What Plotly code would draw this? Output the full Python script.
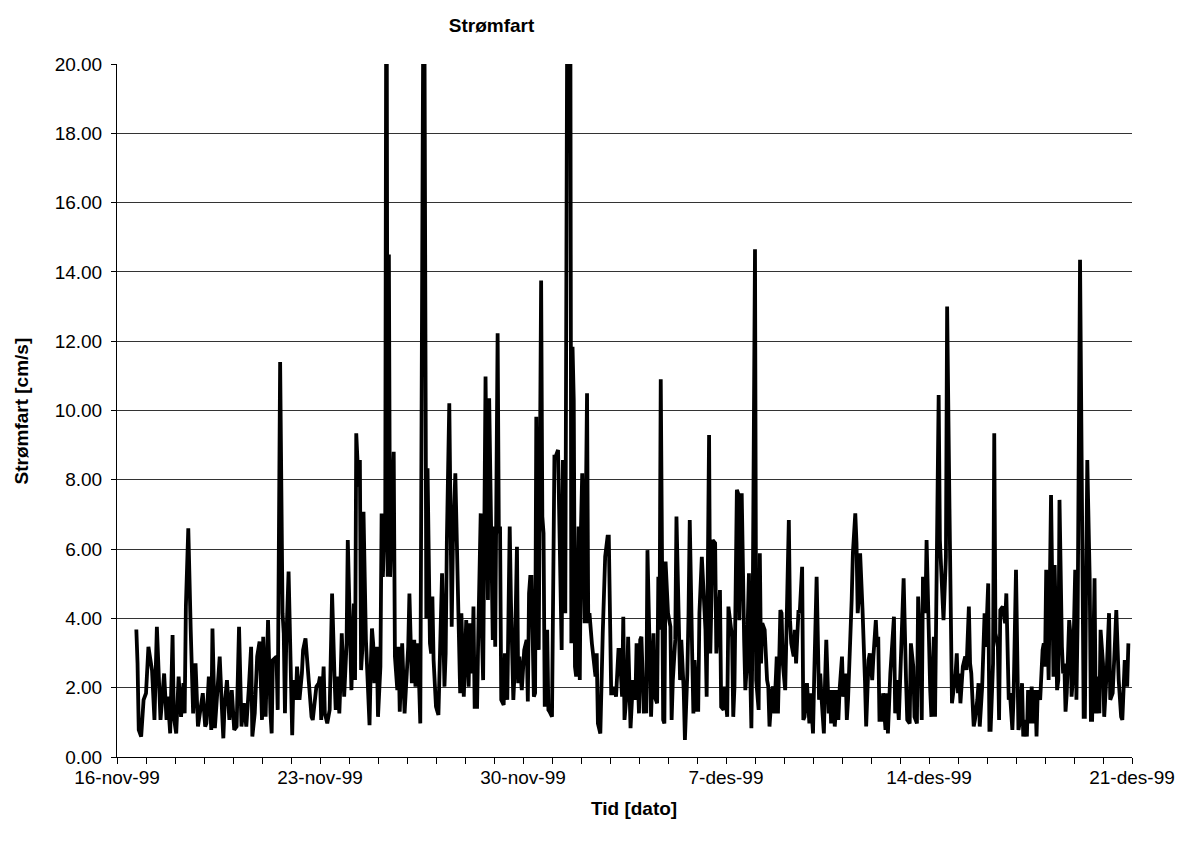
import pandas as pd
import plotly.graph_objects as go

# current speed readings, hours after 16-nov-99 00:00
start = pd.Timestamp('1999-11-16')

hours = [
    16, 17, 18, 20, 22, 24, 26, 27, 29, 31, 33, 36, 39, 41, 42, 44, 46, 47, 49, 51,
    53, 55, 56, 57, 59, 61, 62, 63, 65, 66, 67, 71, 73, 74, 76, 78, 79, 81,
    85, 87, 88, 89, 91, 93, 95, 97, 99, 101, 103, 105, 107, 109, 111, 112, 114, 116,
    118, 120, 121, 123, 125, 127, 128, 129, 132, 133, 135, 137, 138, 139, 140, 142,
    143, 144, 145, 146, 148, 149, 151, 153, 154, 156, 157, 159, 161, 162, 165, 167,
    168, 169, 171, 172, 174, 176, 178, 180, 181, 182, 184, 185, 186, 188, 190, 191,
    193, 194, 196, 197, 198, 200, 201, 202, 203, 204, 206, 207, 209, 210, 211, 212,
    213, 215, 216, 218, 219, 220, 222, 223, 224, 225, 226, 229, 230, 232, 233, 234,
    236, 238, 239, 241, 242, 244, 246, 247, 249,
    251, 254, 256, 257, 258, 259, 260, 261, 262, 264, 266, 267, 269, 271, 272, 273,
    275, 277, 278, 280, 282, 283, 284, 285, 287, 288, 289, 291, 292, 294, 295, 296,
    298, 299, 301, 302, 303, 305, 306, 307, 308, 309, 311, 312, 313, 315, 316, 317,
    318, 320, 321, 323, 325, 326, 328, 329, 331, 332,
    333, 335, 337, 339, 340, 341, 342, 343, 345, 346, 347, 348, 349, 351, 352, 353,
    354, 356, 357, 358, 360, 362, 363, 365, 367, 368, 369, 371, 373, 374, 375, 376,
    377, 378, 379, 380, 382, 383, 384, 385, 387, 388, 389, 390, 391, 393, 394, 396,
    397, 398, 400, 401, 402, 404, 406, 407, 408, 409, 411, 412, 413, 415,
    416, 418, 419, 420, 422, 423, 425, 427, 429, 430, 432, 433, 434, 436, 437, 438,
    439, 441, 442, 444, 445, 447, 448, 449, 450, 452, 453, 454, 456, 458, 459, 460,
    462, 463, 465, 466, 467, 469, 470, 472, 473, 474, 476, 477, 478, 480, 481, 482,
    484, 485, 487, 488, 490, 491, 493, 495, 496,
    499, 500, 502, 503, 505, 506, 508, 509, 510, 511, 513, 514, 515, 517, 519, 520,
    521, 523, 524, 525, 526, 528, 529, 531, 532, 533, 534, 536, 538, 539, 540, 542,
    543, 544, 546, 547, 549, 550, 551, 553, 554, 556, 557, 558, 560, 561, 562, 564,
    565, 567, 568, 569, 571, 573, 574, 576, 577, 579, 581,
    582, 583, 585, 586, 587, 589, 590, 591, 593, 594, 596, 597, 598, 600, 601, 603,
    604, 605, 607, 608, 609, 611, 612, 613, 614, 615, 617, 618, 619, 620, 622, 623,
    625, 626, 628, 629, 630, 631, 633, 634, 636, 637, 638, 640, 641, 643, 644, 645,
    647, 648, 649, 651, 653, 654, 656, 657, 659, 660, 662, 663,
    665, 666, 667, 669, 670, 672, 673, 674, 676, 677, 678, 680, 681, 683, 684, 686,
    687, 689, 690, 691, 692, 694, 695, 696, 697, 698, 700, 702, 703, 705, 706, 707,
    709, 710, 712, 713, 714, 716, 718, 719, 721, 722, 723, 725, 726, 727, 729, 730,
    731, 733, 735, 736, 738, 739, 741, 742, 744, 745, 746,
    747, 749, 750, 751, 753, 754, 755, 757, 758, 760, 761, 762, 764, 765, 766, 767,
    768, 769, 771, 773, 774, 775, 776, 778, 779, 780, 782, 783, 784, 785, 786, 788,
    789, 790, 791, 793, 794, 795, 797, 799, 800, 801, 803, 805, 806, 807, 809, 810,
    812, 813, 814, 816, 817, 819, 821, 822, 824, 826, 827, 829, 831, 832, 834, 836, 837,
]

speed = [
    3.68, 2.70, 0.78, 0.59, 1.65, 1.84, 3.18, 2.90, 2.50, 1.07, 3.76, 1.07, 2.41, 1.07, 1.74, 0.68, 3.52, 1.16, 0.68, 2.32,
    1.16, 2.13, 1.26, 4.34, 6.60, 3.67, 2.70, 1.26, 2.70, 1.74, 0.88, 1.84, 0.88, 0.97, 2.32, 0.78, 3.71, 0.83,
    2.90, 1.26, 0.54, 1.45, 2.22, 1.07, 1.93, 0.78, 0.88, 3.76, 0.88, 1.55, 0.88, 1.93, 3.18, 0.59, 1.26, 2.90,
    3.33, 1.07, 3.47, 1.16, 3.95, 1.26, 0.68, 2.80, 2.90, 1.36, 11.40, 4.15, 3.57, 1.26, 3.18, 5.35,
    3.57, 2.22, 0.63, 2.22, 1.65, 2.61, 1.65, 2.41, 3.09, 3.42, 2.90, 1.84, 1.16, 1.07, 2.03, 2.13,
    2.32, 1.07, 2.61, 1.26, 0.97, 1.36, 4.72, 2.32, 1.36, 2.32, 1.26, 2.22, 3.57, 1.74, 3.28, 6.26,
    2.99, 1.93, 4.43, 2.22, 9.34, 7.80, 8.57, 2.51, 3.09, 7.08, 3.38, 2.32, 0.92, 2.61, 3.71, 3.28,
    2.13, 3.18, 1.16, 2.61, 7.03, 5.20, 7.03, 26.0, 5.20, 14.50, 5.20, 8.81, 2.90, 1.93, 3.18, 1.31,
    3.28, 1.26, 2.03, 3.18, 4.72, 2.13, 3.38, 2.03, 3.28,
    0.97, 26.0, 4.00, 8.33, 4.53, 3.28, 2.99, 4.63, 2.80, 1.45, 1.21, 2.61, 5.30, 2.03, 2.99, 6.26,
    10.21, 3.76, 6.17, 8.19, 4.92, 3.57, 1.84, 4.15, 1.74, 2.80, 3.95, 2.03, 3.86, 2.41, 4.34, 1.45,
    1.45, 3.57, 7.03, 3.57, 2.22, 10.98, 7.42, 4.53, 10.35, 7.42, 3.38, 6.65, 3.18, 12.23, 6.46, 6.65,
    1.65, 1.50, 2.99, 1.65, 6.65, 4.53, 1.65, 2.41, 6.07, 2.13,
    2.90, 1.93, 3.09, 3.38, 1.60, 4.72, 5.20, 5.20, 1.74, 1.84, 9.82, 4.05, 3.09, 13.75, 6.94, 6.46,
    1.45, 3.67, 1.36, 1.31, 1.16, 8.67, 8.67, 8.86, 4.24, 3.09, 8.57, 4.15, 26.0, 18.0, 26.0, 3.28,
    11.84, 10.30, 2.61, 2.32, 6.65, 2.22, 6.65, 8.19, 3.86, 8.19, 10.50, 3.86, 4.15, 3.28, 2.90, 2.32,
    2.99, 0.97, 0.68, 2.41, 3.57, 5.78, 6.36, 6.36, 4.72, 1.84, 1.84, 2.03, 1.74, 3.09,
    3.09, 1.74, 4.05, 1.07, 1.93, 3.47, 0.83, 2.22, 1.65, 3.28, 1.26, 3.38, 3.47, 1.26, 1.65, 1.26,
    5.97, 1.65, 1.16, 3.57, 1.74, 1.55, 5.20, 3.67, 10.90, 1.07, 0.97, 5.64, 4.15, 3.76, 1.07, 2.22,
    3.38, 6.94, 2.70, 2.22, 3.38, 1.93, 0.49, 2.41, 4.15, 6.84, 2.99, 1.26, 2.80, 1.36, 1.36, 4.15,
    5.78, 4.92, 3.67, 1.74, 9.29, 2.99, 6.26, 6.17, 2.99,
    4.82, 1.45, 1.36, 2.03, 1.16, 4.34, 3.76, 3.47, 1.16, 2.03, 7.71, 7.61, 3.95, 7.61, 3.38, 1.93,
    2.51, 5.30, 2.51, 0.83, 3.67, 14.65, 2.22, 1.36, 5.88, 2.70, 3.86, 3.67, 2.22, 2.03, 0.88, 1.93,
    2.03, 1.26, 2.90, 1.26, 4.24, 4.15, 2.70, 1.93, 3.57, 6.84, 3.95, 3.28, 2.90, 3.67, 2.70, 4.24,
    4.15, 5.49, 1.07, 1.16, 2.13, 0.97, 1.84, 0.68, 2.32, 5.20, 1.65,
    2.41, 1.74, 0.68, 2.22, 3.38, 1.26, 1.93, 0.97, 1.93, 0.88, 1.93, 1.07, 1.93, 2.90, 1.74, 2.41,
    1.07, 1.65, 3.38, 4.53, 5.88, 7.03, 6.17, 4.15, 4.63, 5.88, 4.24, 3.38, 2.22, 0.88, 2.80, 2.99,
    2.22, 2.90, 3.95, 3.18, 3.47, 1.07, 1.07, 1.84, 0.78, 1.84, 0.68, 2.41, 2.99, 4.05, 1.26, 2.22,
    1.07, 2.22, 2.80, 5.16, 2.22, 1.07, 0.97, 3.28, 2.61, 1.16, 0.97, 4.63,
    2.90, 1.07, 5.20, 4.15, 6.26, 2.61, 1.93, 1.16, 3.47, 1.16, 3.86, 10.45, 6.26, 4.63, 3.95, 5.78,
    13.00, 7.03, 3.67, 1.55, 1.84, 2.41, 2.99, 1.84, 2.41, 1.55, 2.61, 2.90, 2.51, 4.34, 2.70, 2.41,
    0.88, 1.07, 1.65, 2.13, 0.88, 2.03, 4.15, 3.18, 5.01, 0.78, 0.78, 2.70, 9.34, 3.57, 3.18, 1.07,
    4.24, 4.34, 3.86, 4.72, 1.65, 1.84, 0.78, 1.74, 5.40, 2.80, 0.78,
    0.97, 2.13, 0.59, 1.07, 0.59, 1.93, 0.97, 2.03, 0.97, 1.93, 0.59, 1.93, 1.65, 2.41, 3.09, 3.28,
    2.61, 5.40, 2.22, 7.56, 4.15, 2.32, 5.54, 1.93, 2.22, 7.42, 3.18, 2.41, 2.70, 1.31, 1.84, 3.95,
    3.57, 1.74, 2.22, 5.40, 1.65, 3.95, 14.35, 6.07, 1.16, 1.16, 8.57, 5.11, 1.07, 1.07, 5.16, 1.26,
    2.32, 1.26, 3.67, 2.70, 1.16, 2.41, 4.15, 1.65, 1.84, 3.38, 4.24, 2.22, 1.16, 1.07, 2.80, 2.03, 3.28,
]

tick_dates = ['1999-11-16', '1999-11-23', '1999-11-30', '1999-12-07', '1999-12-14', '1999-12-21']
tick_text = ['16-nov-99', '23-nov-99', '30-nov-99', '7-des-99', '14-des-99', '21-des-99']

times = start + pd.to_timedelta(hours, unit='h')

font = 'Liberation Sans, Arial, sans-serif'

fig = go.Figure()
fig.add_trace(go.Scatter(x=times, y=speed, mode='lines',
                         line=dict(color='black', width=3.8),
                         showlegend=False))

fig.update_layout(
    width=1199, height=850,
    margin=dict(l=117, r=67, t=64, b=93),
    paper_bgcolor='white', plot_bgcolor='white',
    font=dict(family=font, size=19, color='black'),
    title=dict(text='<b>Strømfart</b>', xref='paper', x=0.369, xanchor='center',
               yref='container', y=1 - 25 / 850, yanchor='middle',
               font=dict(family=font, size=19, color='black')),
)

fig.update_xaxes(
    type='date', range=['1999-11-16', '1999-12-21'],
    tickmode='array', tickvals=tick_dates, ticktext=tick_text,
    ticks='outside', ticklen=6, tickcolor='black', tickwidth=1,
    showline=True, linecolor='black', linewidth=1,
    showgrid=False, zeroline=False, ticklabelstandoff=-3,
    minor=dict(dtick=86400000, ticks='outside', ticklen=6, tickcolor='black', showgrid=False),
    tickfont=dict(family=font, size=19, color='black'),
)

fig.update_yaxes(
    range=[0, 20], dtick=2, tickformat='.2f',
    ticks='outside', ticklen=5, tickcolor='black',
    showline=True, linecolor='black', linewidth=1,
    showgrid=True, gridcolor='#333333', gridwidth=1, zeroline=False,
    ticklabelstandoff=5,
    tickfont=dict(family=font, size=19, color='black'),
)

fig.add_annotation(text='<b>Tid [dato]</b>', xref='paper', yref='paper',
                   x=0.509, y=-0.0736, xanchor='center', yanchor='middle',
                   showarrow=False, font=dict(family=font, size=19, color='black'))
fig.add_annotation(text='<b>Strømfart [cm/s]</b>', xref='paper', yref='paper',
                   x=-0.0936, y=0.5, xanchor='center', yanchor='middle', textangle=-90,
                   showarrow=False, font=dict(family=font, size=19, color='black'))

fig.write_html('out.html', config={'displayModeBar': False},
               post_script="document.body.style.margin='0';")
